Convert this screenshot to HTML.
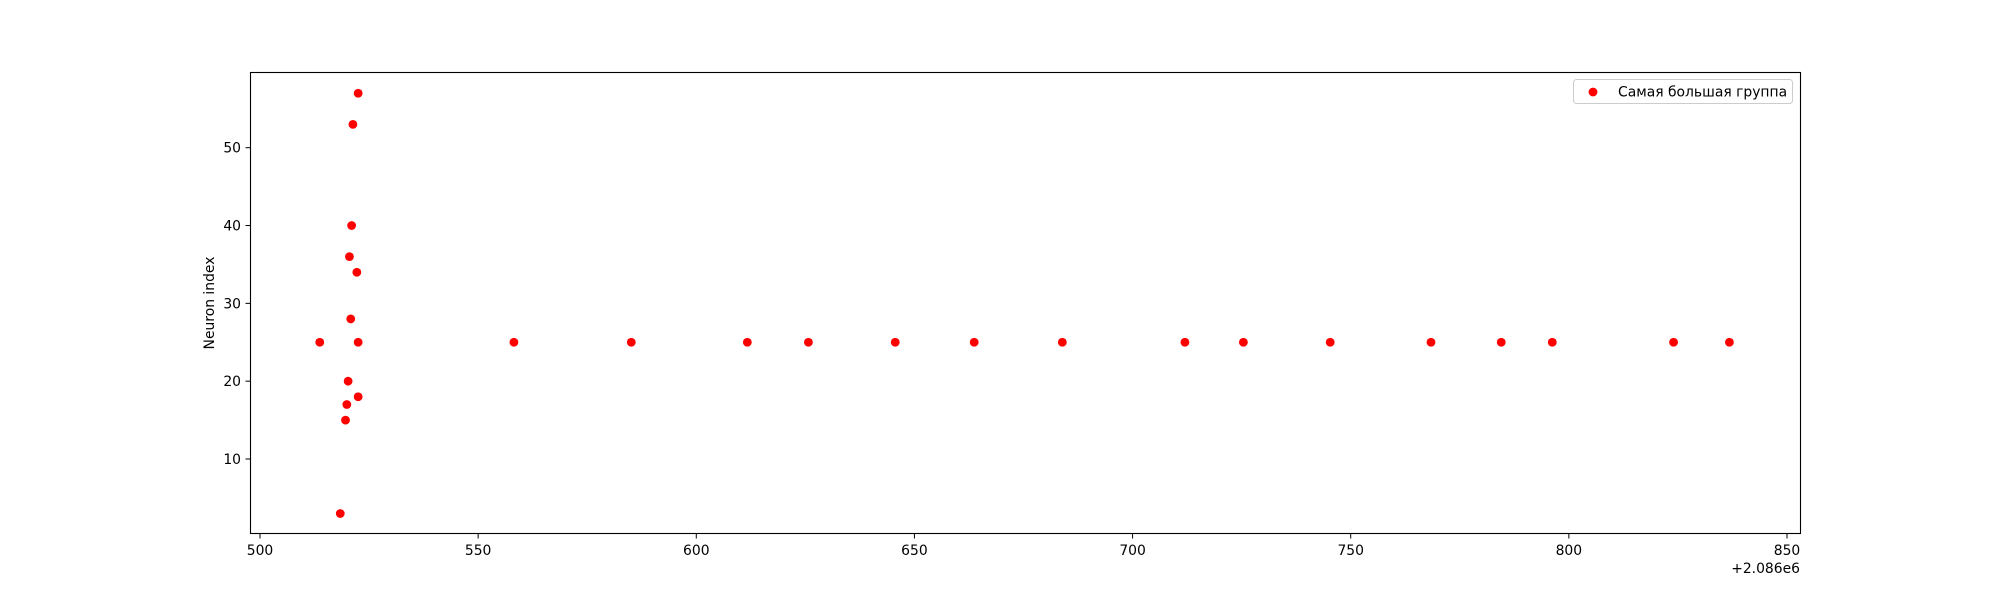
<!DOCTYPE html>
<html><head><meta charset="utf-8"><style>
html,body{margin:0;padding:0;background:#fff;}
svg{display:block;font-family:"DejaVu Sans","Liberation Sans",sans-serif;}
</style></head><body>
<svg id="chart" width="2000" height="600">
<rect x="0" y="0" width="2000" height="600" fill="#fff"/>
<g id="marks"></g>
<g id="axes"></g>
<rect x="250.5" y="72.5" width="1550" height="461" fill="none" stroke="#000" stroke-width="1.1"/>
<text x="0" y="0" transform="translate(214,303) rotate(-90)" text-anchor="middle" font-size="13.9">Neuron index</text>
<text x="1800" y="573" text-anchor="end" font-size="13.9">+2.086e6</text>
<g>
<rect x="1573.5" y="79.5" width="219" height="24" rx="3" fill="#fff" stroke="#ccc" stroke-width="1"/>
<circle cx="1593" cy="92" r="4.4" fill="#ff0000"/>
<text x="1618" y="96.5" font-size="13.9">Самая большая группа</text>
</g>
</svg>
<script>
const xValues = [513.7,522.5,521.3,521.0,520.5,522.2,520.8,522.5,520.2,519.9,522.5,519.6,518.4,558.2,585.1,611.7,625.7,645.6,663.7,683.9,712.0,725.4,745.3,768.4,784.5,796.2,824.0,836.8];
const yValues = [25,57,53,40,36,34,28,25,20,17,18,15,3,25,25,25,25,25,25,25,25,25,25,25,25,25,25,25];
const xTicks = [500,550,600,650,700,750,800,850];
const yTicks = [10,20,30,40,50];
const NS="http://www.w3.org/2000/svg";
function xScale(v){return 260+(v-500)*(1787-260)/350;}
function yScale(v){return 459-(v-10)*(458-146.7)/40;}
const marks=document.getElementById('marks');
const axes=document.getElementById('axes');
for(let i=0;i<xValues.length;i++){
  const c=document.createElementNS(NS,'circle');
  c.setAttribute('cx',xScale(xValues[i]));
  c.setAttribute('cy',yScale(yValues[i]));
  c.setAttribute('r',4.4);
  c.setAttribute('fill','#ff0000');
  
  
  marks.appendChild(c);
}
xTicks.forEach(t=>{
  const x=xScale(t);
  const l=document.createElementNS(NS,'line');
  l.setAttribute('x1',x);l.setAttribute('x2',x);l.setAttribute('y1',533.5);l.setAttribute('y2',538.5);
  l.setAttribute('stroke','#000');
  
  
  axes.appendChild(l);
  const tx=document.createElementNS(NS,'text');
  tx.setAttribute('x',x);tx.setAttribute('y',555);tx.setAttribute('text-anchor','middle');tx.setAttribute('font-size','13.9');
  tx.textContent=t;
  
  
  axes.appendChild(tx);
});
yTicks.forEach(t=>{
  const y=yScale(t);
  const l=document.createElementNS(NS,'line');
  l.setAttribute('x1',245.5);l.setAttribute('x2',250.5);l.setAttribute('y1',y);l.setAttribute('y2',y);
  l.setAttribute('stroke','#000');
  
  
  axes.appendChild(l);
  const tx=document.createElementNS(NS,'text');
  tx.setAttribute('x',241);tx.setAttribute('y',y+5);tx.setAttribute('text-anchor','end');tx.setAttribute('font-size','13.9');
  tx.textContent=t;
  
  
  axes.appendChild(tx);
});
</script>
</body></html>
